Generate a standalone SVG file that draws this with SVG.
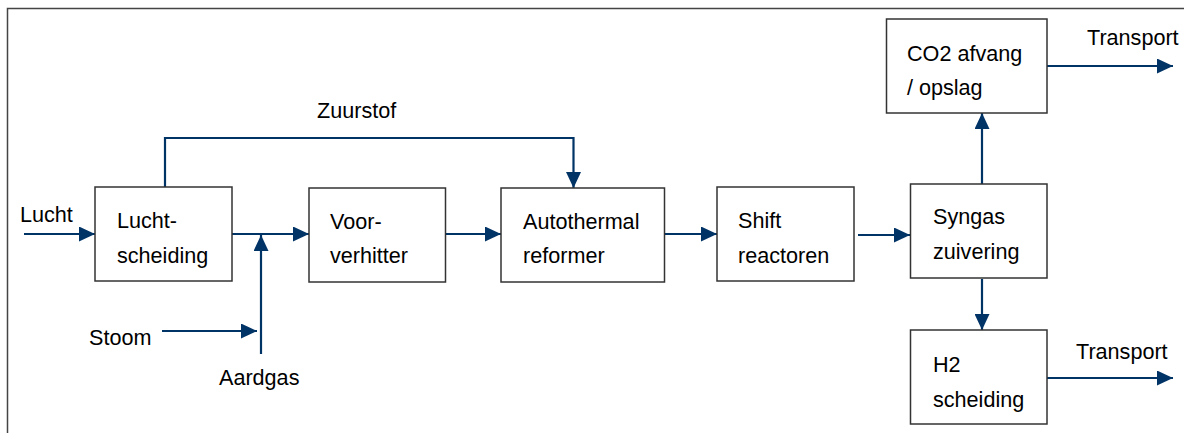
<svg xmlns="http://www.w3.org/2000/svg" width="1184" height="433" viewBox="0 0 1184 433">
<defs>
<marker id="ah" viewBox="0 0 16 15" refX="16" refY="7.5" markerWidth="16" markerHeight="15" markerUnits="userSpaceOnUse" orient="auto">
<path d="M0,0 L16,7.5 L0,15 Z" fill="#003366"/>
</marker>
<style>
.box{fill:#fff;stroke:#333;stroke-width:1.5}
.t{font-family:"Liberation Sans",Arial,sans-serif;font-size:21.6px;fill:#000}
.c{fill:none;stroke:#003366;stroke-width:2.2}
.a{marker-end:url(#ah)}
</style>
</defs>
<rect width="1184" height="433" fill="#fff"/>
<path d="M7.5,440 V8.5 H1190" fill="none" stroke="#444" stroke-width="1.5"/>
<g id="connectors">
<line class="c a" x1="24" y1="234" x2="95" y2="234"/>
<line class="c a" x1="232" y1="234" x2="309" y2="234"/>
<line class="c a" x1="261" y1="354" x2="261" y2="235"/>
<line class="c a" x1="162" y1="331" x2="257" y2="331"/>
<polyline class="c a" points="165,187 165,138 573.5,138 573.5,188"/>
<line class="c a" x1="446" y1="234" x2="501" y2="234"/>
<line class="c a" x1="664" y1="234" x2="717" y2="234"/>
<line class="c a" x1="858" y1="235" x2="910" y2="235"/>
<line class="c a" x1="982" y1="184" x2="982" y2="113"/>
<line class="c a" x1="982" y1="279" x2="982" y2="330"/>
<line class="c a" x1="1047" y1="66" x2="1173" y2="66"/>
<line class="c a" x1="1047" y1="378" x2="1173" y2="378"/>
</g>
<g id="labels">
<text class="t" x="20" y="222">Lucht</text>
<text class="t" x="89" y="345">Stoom</text>
<text class="t" x="219" y="385">Aardgas</text>
<text class="t" x="317" y="118">Zuurstof</text>
<text class="t" x="1087" y="45">Transport</text>
<text class="t" x="1076" y="359">Transport</text>
</g>
<g id="luchtscheiding">
<rect class="box" x="95" y="187" width="137" height="94"/>
<text class="t" x="117" y="228">Lucht-</text>
<text class="t" x="117" y="263">scheiding</text>
</g>
<g id="voorverhitter">
<rect class="box" x="309" y="188" width="136.5" height="94"/>
<text class="t" x="330" y="229">Voor-</text>
<text class="t" x="330" y="263">verhitter</text>
</g>
<g id="autothermal">
<rect class="box" x="501" y="188" width="163.5" height="94"/>
<text class="t" x="523" y="229">Autothermal</text>
<text class="t" x="523" y="263">reformer</text>
</g>
<g id="shift">
<rect class="box" x="717" y="187" width="137" height="94"/>
<text class="t" x="738" y="228">Shift</text>
<text class="t" x="738" y="263">reactoren</text>
</g>
<g id="syngas">
<rect class="box" x="910.5" y="184" width="136.5" height="94"/>
<text class="t" x="933" y="224">Syngas</text>
<text class="t" x="933" y="259">zuivering</text>
</g>
<g id="co2">
<rect class="box" x="886.5" y="19" width="160.5" height="94"/>
<text class="t" x="907" y="61">CO2 afvang</text>
<text class="t" x="907" y="95">/ opslag</text>
</g>
<g id="h2">
<rect class="box" x="910.5" y="330" width="136.5" height="94"/>
<text class="t" x="933" y="372">H2</text>
<text class="t" x="933" y="407">scheiding</text>
</g>
</svg>
